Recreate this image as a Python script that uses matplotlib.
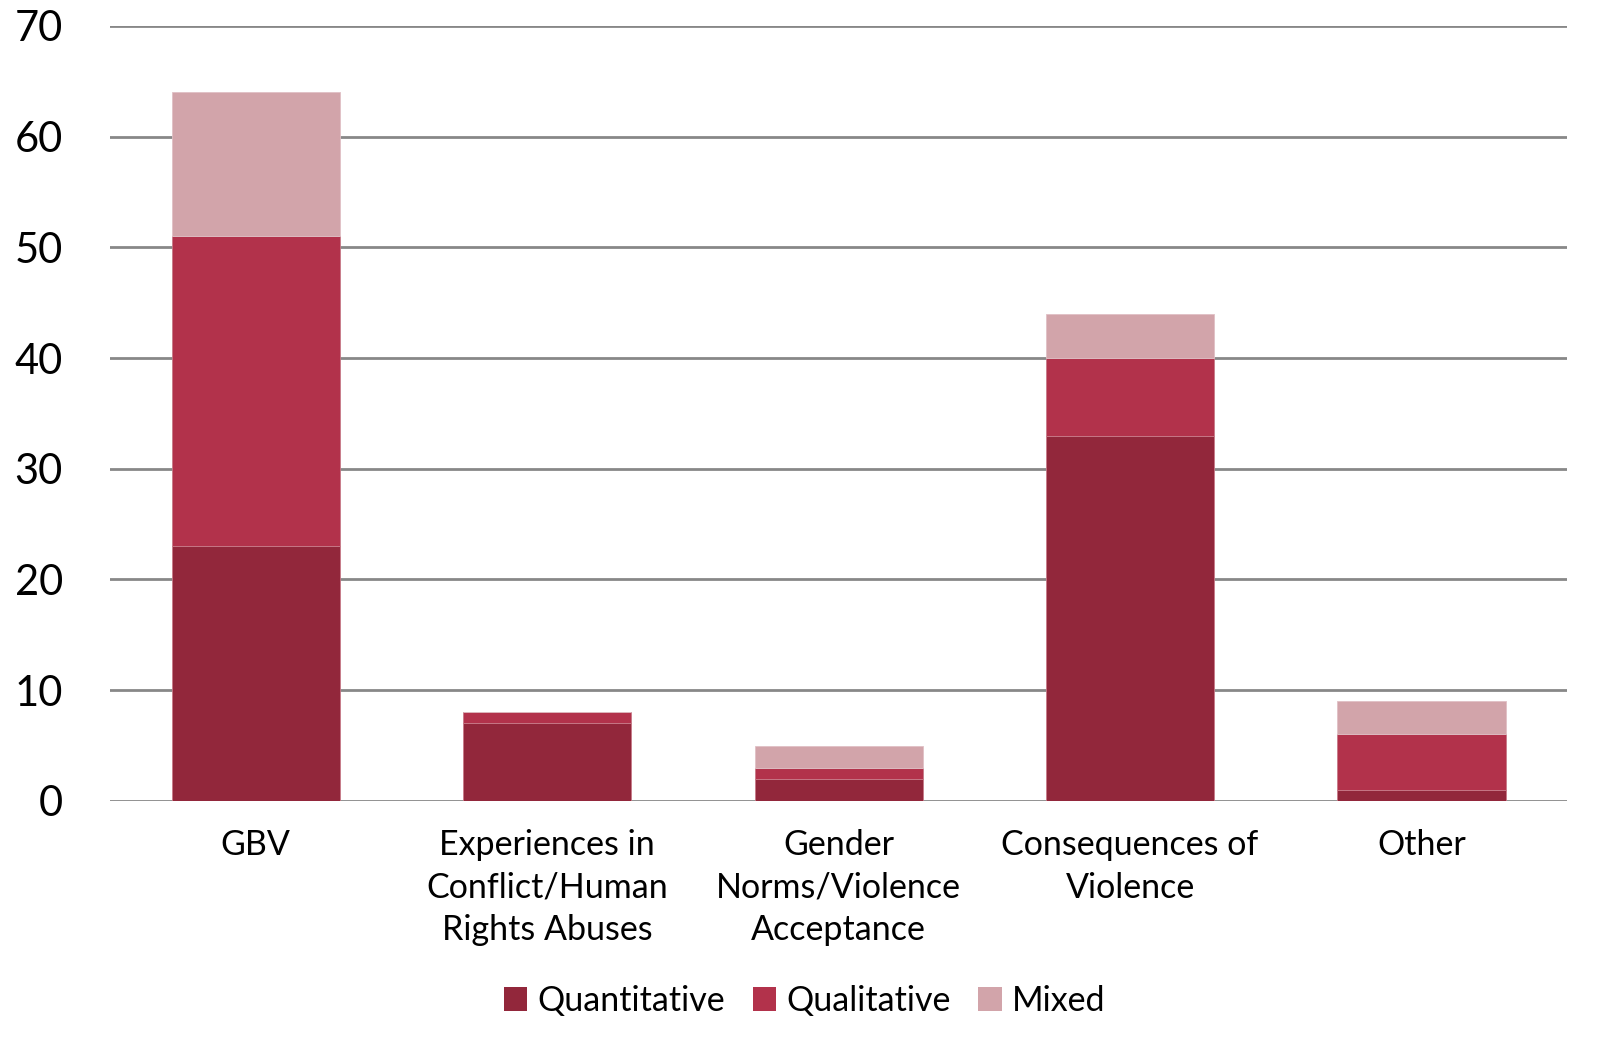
import matplotlib
matplotlib.use("Agg")
import matplotlib.pyplot as plt
import numpy as np
from matplotlib.patches import Patch

categories = ["GBV", "Experiences in\nConflict/Human\nRights Abuses", "Gender\nNorms/Violence\nAcceptance",
              "Consequences of\nViolence", "Other"]
quantitative = [23, 7, 2, 33, 1]
qualitative = [28, 1, 1, 7, 5]
mixed = [13, 0, 2, 4, 3]
series_names = ["Quantitative", "Qualitative", "Mixed"]
colors = ["#92273B", "#B2324B", "#D2A4AA"]

plt.rcParams['font.family'] = ['Lato', 'DejaVu Sans']

fig = plt.figure(figsize=(16.19, 10.51), dpi=100)
ax = fig.add_axes([0.068, 0.238, 0.9, 0.7373])

x = np.arange(len(categories))
w = 0.577
q = np.array(quantitative); ql = np.array(qualitative); m = np.array(mixed)
ax.bar(x, q, w, color=colors[0], edgecolor="#c77a88", linewidth=0.6, zorder=3)
ax.bar(x, ql, w, bottom=q, color=colors[1], edgecolor="#c77a88", linewidth=0.6, zorder=3)
ax.bar(x, m, w, bottom=q + ql, color=colors[2], edgecolor="#e0c0c5", linewidth=0.6, zorder=3)

ax.set_xlim(-0.5, 4.5)
ax.set_ylim(0, 70)
ax.set_yticks(range(0, 71, 10))
ax.yaxis.grid(True, color="#888888", linewidth=2, zorder=0)
ax.set_axisbelow(True)
for s in ax.spines.values():
    s.set_visible(False)
ax.tick_params(axis='y', length=0, pad=34, labelsize=30)
ax.tick_params(axis='x', length=0, pad=20, labelsize=24.5)
ax.set_xticks(x)
ax.set_xticklabels(categories, linespacing=1.42)

handles = [Patch(facecolor=c, edgecolor='none') for c in colors]
fig.legend(handles, series_names, loc='center', bbox_to_anchor=(0.497, 0.048), ncol=3, frameon=False,
           fontsize=24.5, handlelength=0.7, handleheight=0.7, handletextpad=0.3, columnspacing=0.8)

fig.savefig("out.png", dpi=100, facecolor="white")
